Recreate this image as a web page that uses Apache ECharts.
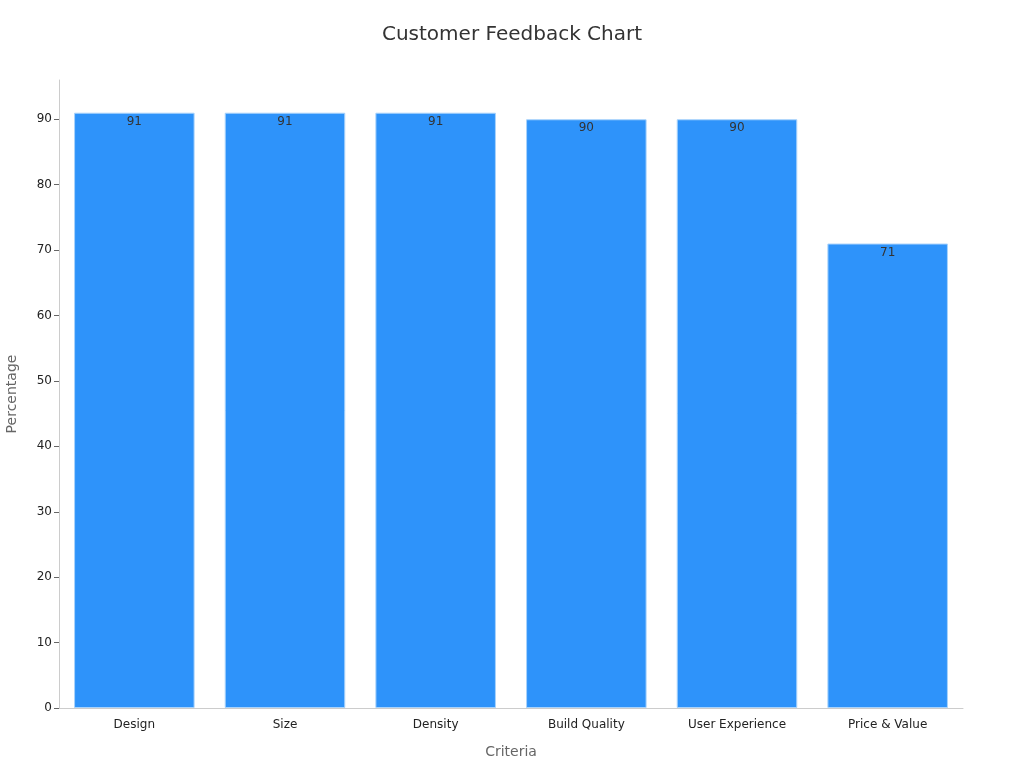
<!DOCTYPE html>
<html><head><meta charset="utf-8">
<script src="https://cdn.jsdelivr.net/npm/echarts@6/dist/echarts.min.js"></script>
<style>html,body{margin:0;padding:0;background:#fff}#c{width:1024px;height:768px}</style>
</head><body><div id="c"></div>
<script>
const categories = ["Design", "Size", "Density", "Build Quality", "User Experience", "Price & Value"];
const values = [91, 91, 91, 90, 90, 71];
const yTicks = [0, 10, 20, 30, 40, 50, 60, 70, 80, 90];

const chart = echarts.init(document.getElementById('c'));
chart.setOption({
  backgroundColor: '#fff',
  textStyle: { fontFamily: 'DejaVu Sans' },
  title: {
    text: 'Customer Feedback Chart', left: 'center', top: 20,
    textStyle: { fontSize: 20, fontWeight: 'normal', color: '#333', fontFamily: 'DejaVu Sans' }
  },
  grid: { left: 59, right: 61, top: 80, bottom: 60, containLabel: false, outerBoundsMode: 'none' },
  xAxis: {
    type: 'category', data: categories,
    name: 'Criteria', nameLocation: 'middle', nameGap: 37,
    nameTextStyle: { color: '#666', fontSize: 14 },
    axisLine: { lineStyle: { color: '#ccc' } },
    axisTick: { alignWithLabel: true, length: 5, lineStyle: { color: '#666' } },
    axisLabel: { color: '#222', fontSize: 12, margin: 11 }
  },
  yAxis: {
    type: 'value', min: 0, max: 96, interval: 10,
    name: 'Percentage', nameLocation: 'middle', nameGap: 40,
    nameTextStyle: { color: '#666', fontSize: 14 },
    axisLine: { show: true, lineStyle: { color: '#ccc' } },
    axisTick: { show: true, length: 5, lineStyle: { color: '#666' },
      customValues: yTicks },
    axisLabel: { color: '#222', fontSize: 12, margin: 7, customValues: yTicks,
      formatter: v => yTicks.includes(v) ? String(v) : '' },
    splitLine: { show: false }
  },
  series: [{
    type: 'bar', data: values, barWidth: '80%',
    itemStyle: { color: '#2E93FA', borderColor: '#A9D3FB', borderWidth: 1 },
    label: { show: true, position: 'insideTop', distance: 3, color: '#333', fontSize: 12 }
  }]
});
</script></body></html>
